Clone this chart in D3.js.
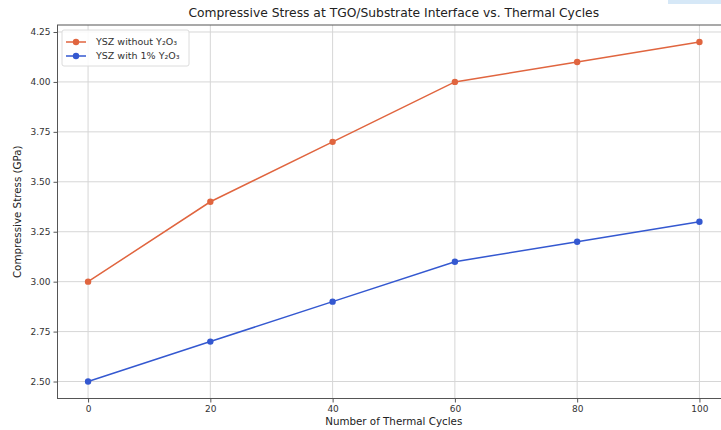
<!DOCTYPE html>
<html>
<head>
<meta charset="utf-8">
<script src="https://cdn.jsdelivr.net/npm/d3@7"></script>
<style>
body { margin: 0; background: #fff; }
svg { display: block; font-family: "DejaVu Sans", sans-serif; }
</style>
</head>
<body>
<svg id="chart" width="721" height="430"></svg>
<script>
(function() {
'use strict';

var cycles = [0, 20, 40, 60, 80, 100];
var stressWithout = [3.0, 3.4, 3.7, 4.0, 4.1, 4.2];
var stressWith = [2.5, 2.7, 2.9, 3.1, 3.2, 3.3];
var xTicks = [0, 20, 40, 60, 80, 100];
var yTicks = [2.50, 2.75, 3.00, 3.25, 3.50, 3.75, 4.00, 4.25];
var seriesNames = ['YSZ without Y\u2082O\u2083', 'YSZ with 1% Y\u2082O\u2083'];
var seriesColors = ['#e0653f', '#3458d0'];

var svg = d3.select('#chart');
var left = 57.5, right = 730, top = 25, bottom = 398.5;

var x = d3.scaleLinear().domain([-5, 105]).range([left, right]);
var y = d3.scaleLinear().domain([2.415, 4.285]).range([bottom, top]);

// little blue strip at top right
svg.append('rect').attr('x', 668).attr('y', 0).attr('width', 53).attr('height', 4)
    .attr('fill', '#d6e8f7');

// grid
var grid = svg.append('g').attr('stroke', '#d6d6d6').attr('stroke-width', 1);
xTicks.forEach(function(t) {
    grid.append('line').attr('x1', x(t)).attr('x2', x(t)).attr('y1', top).attr('y2', bottom);
});
yTicks.forEach(function(t) {
    grid.append('line').attr('x1', left).attr('x2', right).attr('y1', y(t)).attr('y2', y(t));
});

// axes
var xAxis = svg.append('g').attr('transform', 'translate(0,' + bottom + ')')
    .call(d3.axisBottom(x).tickValues(xTicks).tickSize(4).tickPadding(3).tickFormat(d3.format('d')));
var yAxis = svg.append('g').attr('transform', 'translate(' + left + ',0)')
    .call(d3.axisLeft(y).tickValues(yTicks).tickSize(4).tickPadding(3).tickFormat(d3.format('.2f')));
[xAxis, yAxis].forEach(function(a) {
    a.select('.domain').remove();
    a.selectAll('.tick line').attr('stroke', '#555');
    a.selectAll('.tick text').attr('fill', '#333').attr('font-size', 9).attr('font-family', '"DejaVu Sans", sans-serif');
});

// frame
svg.append('rect').attr('x', left).attr('y', top).attr('width', right - left).attr('height', bottom - top)
    .attr('fill', 'none').attr('stroke', '#555').attr('stroke-width', 1);

// series
var line = d3.line().x(function(d) { return x(d[0]); }).y(function(d) { return y(d[1]); });
[stressWithout, stressWith].forEach(function(vals, i) {
    var pts = cycles.map(function(c, j) { return [c, vals[j]]; });
    svg.append('path').datum(pts).attr('d', line)
        .attr('fill', 'none').attr('stroke', seriesColors[i]).attr('stroke-width', 1.5);
    svg.append('g').selectAll('circle').data(pts).enter().append('circle')
        .attr('cx', function(d) { return x(d[0]); })
        .attr('cy', function(d) { return y(d[1]); })
        .attr('r', 3.2)
        .attr('fill', seriesColors[i]);
});

// titles
svg.append('text').attr('x', (left + right) / 2).attr('y', 17).attr('text-anchor', 'middle')
    .attr('font-size', 12.3).attr('fill', '#222')
    .text('Compressive Stress at TGO/Substrate Interface vs. Thermal Cycles');
svg.append('text').attr('x', (left + right) / 2).attr('y', 425).attr('text-anchor', 'middle')
    .attr('font-size', 10.3).attr('fill', '#222').text('Number of Thermal Cycles');
svg.append('text').attr('transform', 'translate(21,' + ((top + bottom) / 2) + ') rotate(-90)')
    .attr('text-anchor', 'middle').attr('font-size', 10.3).attr('fill', '#222')
    .text('Compressive Stress (GPa)');

// legend
var lg = svg.append('g').attr('transform', 'translate(62,30)');
lg.append('rect').attr('width', 127).attr('height', 36).attr('rx', 2)
    .attr('fill', '#fff').attr('fill-opacity', 0.85).attr('stroke', '#dcdcdc');
seriesNames.forEach(function(name, i) {
    var ly = 12 + i * 14;
    lg.append('line').attr('x1', 4).attr('x2', 24).attr('y1', ly).attr('y2', ly)
        .attr('stroke', seriesColors[i]).attr('stroke-width', 1.5);
    lg.append('circle').attr('cx', 14).attr('cy', ly).attr('r', 3.2).attr('fill', seriesColors[i]);
    lg.append('text').attr('x', 34).attr('y', ly + 3).attr('font-size', 9.5).attr('fill', '#333').text(name);
});

})();
</script>
</body>
</html>
